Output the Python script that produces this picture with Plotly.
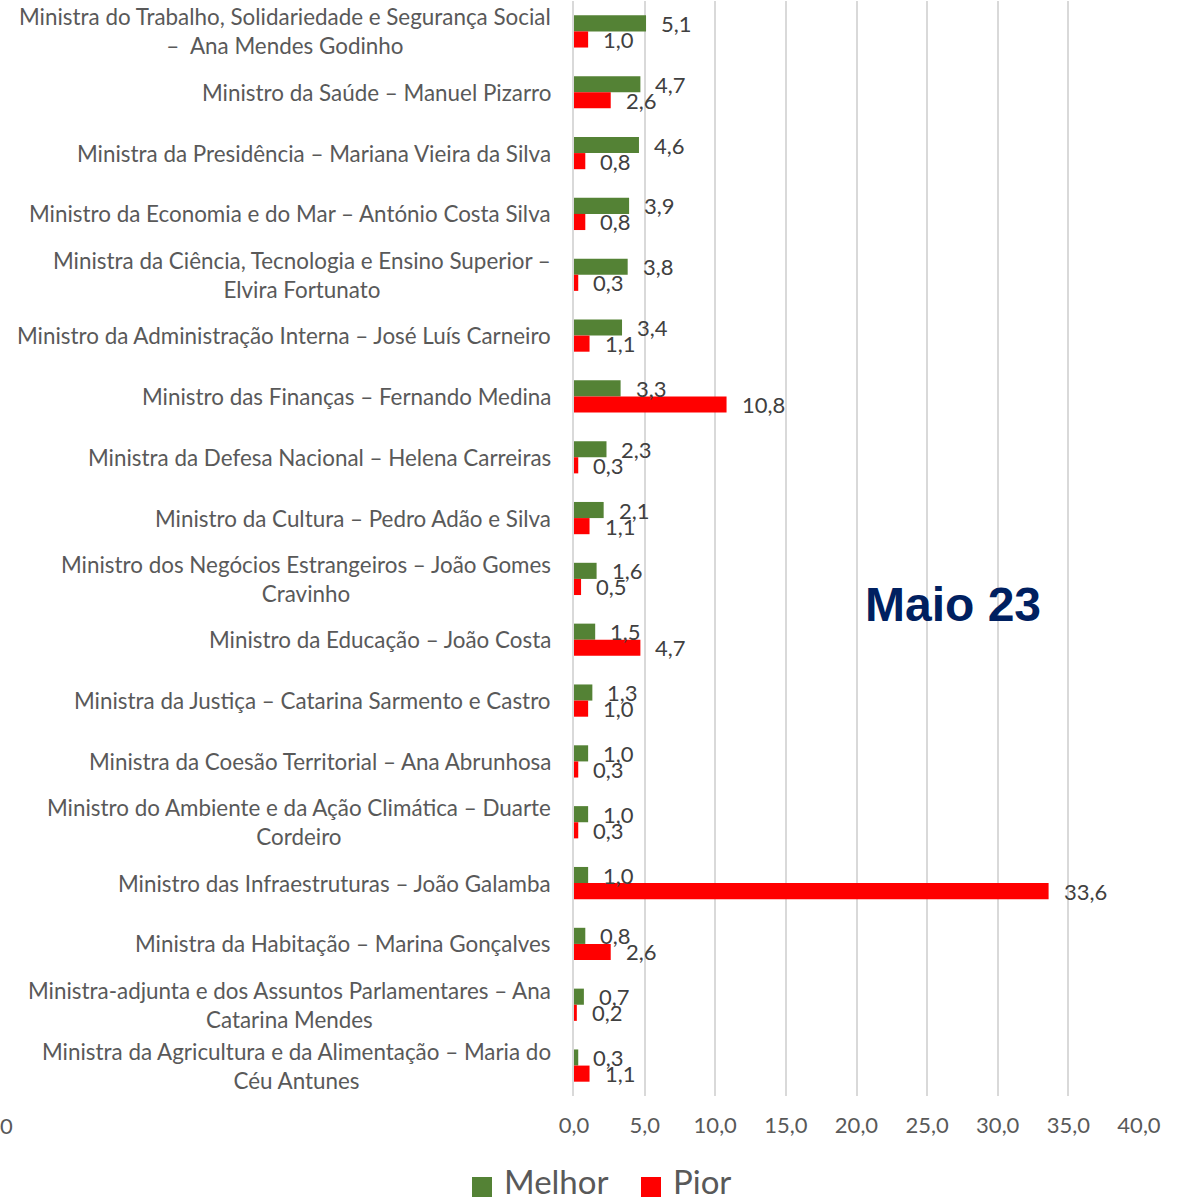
import plotly.graph_objects as go

categories = [
    "Ministra do Trabalho, Solidariedade e Segurança Social<br>–  Ana Mendes Godinho",
    "Ministro da Saúde – Manuel Pizarro",
    "Ministra da Presidência – Mariana Vieira da Silva",
    "Ministro da Economia e do Mar – António Costa Silva",
    "Ministra da Ciência, Tecnologia e Ensino Superior –<br>Elvira Fortunato",
    "Ministro da Administração Interna – José Luís Carneiro",
    "Ministro das Finanças – Fernando Medina",
    "Ministra da Defesa Nacional – Helena Carreiras",
    "Ministro da Cultura – Pedro Adão e Silva",
    "Ministro dos Negócios Estrangeiros – João Gomes<br>Cravinho",
    "Ministro da Educação – João Costa",
    "Ministra da Justiça – Catarina Sarmento e Castro",
    "Ministra da Coesão Territorial – Ana Abrunhosa",
    "Ministro do Ambiente e da Ação Climática – Duarte<br>Cordeiro",
    "Ministro das Infraestruturas – João Galamba",
    "Ministra da Habitação – Marina Gonçalves",
    "Ministra-adjunta e dos Assuntos Parlamentares – Ana<br>Catarina Mendes",
    "Ministra da Agricultura e da Alimentação – Maria do<br>Céu Antunes",
]
melhor = [5.1, 4.7, 4.6, 3.9, 3.8, 3.4, 3.3, 2.3, 2.1, 1.6, 1.5, 1.3, 1.0, 1.0, 1.0, 0.8, 0.7, 0.3]
pior = [1.0, 2.6, 0.8, 0.8, 0.3, 1.1, 10.8, 0.3, 1.1, 0.5, 4.7, 1.0, 0.3, 0.3, 33.6, 2.6, 0.2, 1.1]
x_ticks = [0, 5, 10, 15, 20, 25, 30, 35, 40]
series_names = ["Melhor", "Pior"]
colors = ["#548235", "#FF0000"]

FONT = "Lato"
W, H = 1183, 1201
ml, mr, mt, mb = 574, 44, 1, 105
pw = W - ml - mr
ph = H - mt - mb

fig = go.Figure()
fig.add_trace(go.Bar(y=categories, x=melhor, orientation="h", name=series_names[0],
                     marker=dict(color=colors[0], line=dict(width=0))))
fig.add_trace(go.Bar(y=categories, x=pior, orientation="h", name=series_names[1],
                     marker=dict(color=colors[1], line=dict(width=0))))

def fmt(v):
    return f"{v:.1f}".replace(".", ",")

annotations = []
band = ph / len(categories)
off = band * 0.53 / 4
for c, m, p in zip(categories, melhor, pior):
    annotations.append(dict(x=m, y=c, xref="x", yref="y", text=fmt(m), showarrow=False,
                            xanchor="left", yanchor="middle", xshift=13, yshift=off,
                            font=dict(family=FONT, size=22, color="#404040")))
    annotations.append(dict(x=p, y=c, xref="x", yref="y", text=fmt(p), showarrow=False,
                            xanchor="left", yanchor="middle", xshift=13, yshift=-off,
                            font=dict(family=FONT, size=22, color="#404040")))
    annotations.append(dict(x=0, y=c, xref="paper", yref="y", text=c, showarrow=False,
                            xanchor="right", yanchor="middle", xshift=-21, align="center",
                            font=dict(family=FONT, size=22.4, color="#595959")))

# title
annotations.append(dict(x=(953 - ml) / pw, y=(H - mb - 604) / ph, xref="paper", yref="paper",
                        text="<b>Maio 23</b>", showarrow=False, xanchor="center", yanchor="middle",
                        font=dict(family="Liberation Sans", size=48, color="#002060")))
# stray axis label at left
annotations.append(dict(x=(-2 - ml) / pw, y=(H - mb - 1125) / ph, xref="paper", yref="paper",
                        text="0", showarrow=False, xanchor="left", yanchor="middle",
                        font=dict(family=FONT, size=22, color="#595959")))

# manual legend
shapes = []
legend_items = [(472, 502), (641, 671)]
for (sx, tx), name, col in zip(legend_items, series_names, colors):
    shapes.append(dict(type="rect", xref="paper", yref="paper",
                       x0=(sx - ml) / pw, x1=(sx + 20 - ml) / pw,
                       y0=(H - mb - 1197) / ph, y1=(H - mb - 1177) / ph,
                       fillcolor=col, line=dict(width=0)))
    annotations.append(dict(x=(tx - ml) / pw, y=(H - mb - 1181) / ph, xref="paper", yref="paper",
                            text=name, showarrow=False, xanchor="left", yanchor="middle",
                            font=dict(family=FONT, size=33, color="#595959")))

fig.update_layout(
    width=W, height=H,
    margin=dict(l=ml, r=mr, t=mt, b=mb),
    paper_bgcolor="white", plot_bgcolor="white",
    barmode="group", bargap=0.47, bargroupgap=0,
    showlegend=False,
    separators=",.",
    annotations=annotations,
    shapes=shapes,
    font=dict(family=FONT, size=22, color="#595959"),
)
fig.update_xaxes(range=[0, 40], tickvals=x_ticks, tickformat=".1f",
                 showgrid=True, gridcolor="#D9D9D9", gridwidth=1.5,
                 zeroline=False, showline=False,
                 ticks="outside", ticklen=10, tickcolor="rgba(0,0,0,0)",
                 tickfont=dict(family=FONT, size=22, color="#595959"))
fig.update_yaxes(autorange="reversed", showticklabels=False, showgrid=False,
                 showline=True, linecolor="#D9D9D9", linewidth=1.5, ticks="")

fig.write_html("out.html", config={"displayModeBar": False},
               post_script="document.body.style.margin='0';document.body.style.overflow='hidden';")
